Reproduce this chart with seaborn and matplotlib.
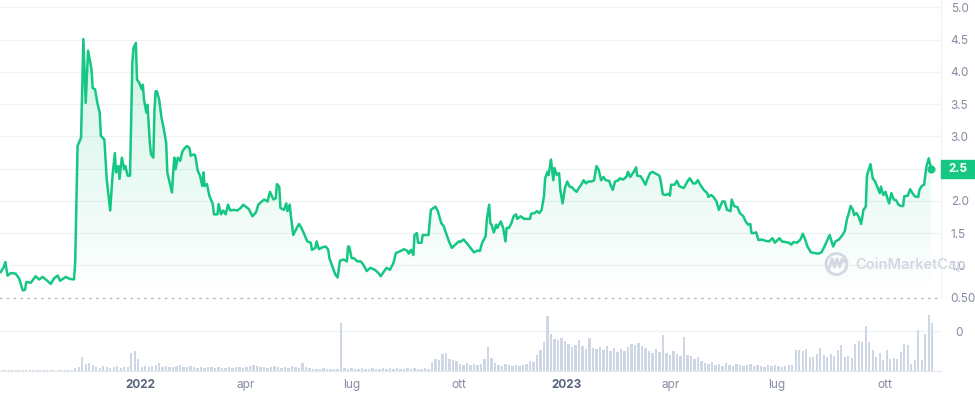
import numpy as np
import pandas as pd
import matplotlib
matplotlib.use("Agg")
import matplotlib.pyplot as plt
import matplotlib.colors as mcolors
import matplotlib.transforms as mtransforms
from matplotlib.patches import Polygon, Rectangle, Circle
from matplotlib.lines import Line2D
import seaborn as sns

sns.set_theme(style="white")
plt.rcParams["font.family"] = ["Inter", "DejaVu Sans"]

GREEN = "#16c784"
GRID = "#eff2f5"
LABEL = "#858ca2"
YEAR = "#58667e"
BAR = "#cfd6e4"
MARK = "#d3d8e1"

# -------------------------
# Data
# -------------------------
start_date = "2021-09-03"

# price: day offset from start_date, value
day_a = [0, 3, 4, 6, 9, 13, 16, 19, 21, 22, 26, 30, 33, 36, 40, 43, 46, 49, 51, 56,
         59, 63, 64, 66, 69, 71, 73, 75, 78, 79, 81, 83, 85, 86, 89, 91, 94, 96, 98, 99,
         101, 102, 104, 106, 107, 109, 111, 113, 114, 116, 117, 119, 121, 122, 123, 125,
         126, 128, 129, 131, 132, 133, 134, 136, 138, 140, 142, 143, 146, 147, 148, 149,
         150, 152, 154, 156, 158, 160, 162, 163, 166, 167, 169, 171, 173, 174, 175, 177,
         179, 182, 183, 186, 187, 189, 191, 193, 195, 197, 200, 203]
price_a = [0.89, 0.98, 1.05, 0.84, 0.88, 0.87, 0.79, 0.61, 0.62, 0.74, 0.73, 0.83, 0.78,
           0.82, 0.76, 0.71, 0.80, 0.84, 0.76, 0.82, 0.79, 0.78, 1.05, 2.85, 2.98, 4.51,
           3.52, 4.33, 4.04, 3.75, 3.73, 3.52, 3.37, 3.01, 2.95, 2.34, 1.85, 2.39, 2.74,
           2.44, 2.54, 2.34, 2.67, 2.49, 2.54, 2.39, 2.39, 4.14, 4.37, 4.45, 3.88, 3.83,
           3.73, 3.80, 3.57, 3.37, 3.49, 2.90, 2.72, 2.67, 3.42, 3.70, 3.70, 3.57, 3.29,
           3.11, 2.90, 2.44, 2.21, 2.13, 2.44, 2.67, 2.49, 2.67, 2.62, 2.77, 2.82, 2.85,
           2.82, 2.70, 2.72, 2.70, 2.47, 2.39, 2.23, 2.44, 2.23, 2.26, 2.08, 1.95, 1.79,
           1.79, 1.95, 1.79, 1.85, 1.79, 1.94, 1.85, 1.86, 1.85]

day_b = [206, 208, 211, 213, 216, 219, 221, 224, 226, 229, 231, 234, 236, 237, 239, 240,
         243, 245, 246, 248, 249, 251, 254, 256, 258, 260, 263, 266, 267, 270, 271, 273,
         276, 279, 281, 282, 285, 287, 289, 291, 294, 297, 298, 299, 301, 303, 306, 309,
         311, 314, 317, 321, 324, 326, 329, 331, 334, 337, 339, 343, 346, 349, 350, 352,
         354, 355, 357, 358, 361, 362, 366, 367, 369, 373, 375, 378, 380, 382, 385, 387,
         390, 393]
price_b = [1.89, 1.94, 1.90, 1.87, 1.76, 1.82, 1.94, 1.99, 2.02, 1.99, 2.14, 2.02, 2.04,
           2.26, 2.22, 1.89, 1.86, 1.96, 1.84, 1.94, 1.76, 1.47, 1.58, 1.64, 1.58, 1.50,
           1.37, 1.35, 1.24, 1.27, 1.37, 1.25, 1.28, 1.29, 1.24, 1.11, 0.96, 0.86, 0.81,
           1.07, 1.09, 1.06, 1.29, 1.29, 1.11, 1.11, 1.06, 1.06, 1.01, 0.91, 0.96, 0.93,
           0.88, 0.83, 0.91, 0.96, 0.93, 1.04, 1.19, 1.22, 1.25, 1.22, 1.18, 1.24, 1.16,
           1.47, 1.50, 1.35, 1.35, 1.47, 1.47, 1.47, 1.86, 1.91, 1.84, 1.65, 1.61, 1.50,
           1.35, 1.27, 1.32, 1.37]

day_c = [394, 397, 400, 403, 406, 409, 411, 413, 416, 417, 419, 420, 421, 423, 425, 426,
         429, 431, 433, 434, 436, 438, 440, 442, 443, 446, 449, 451, 454, 455, 458, 460,
         462, 464, 466, 467, 469, 470, 472, 474, 475, 477, 479, 480, 482, 484, 486, 488,
         490, 492, 494, 496, 498, 500, 502, 504, 507, 509, 511, 513, 515, 517, 519, 522,
         523, 525, 527, 530, 531, 534, 537, 538, 540, 543, 545, 546, 549, 551, 553, 555,
         557, 559, 562, 565, 566, 568, 570, 573, 574, 575, 578, 580, 582, 584, 586, 589]
price_c = [1.36, 1.40, 1.34, 1.27, 1.20, 1.23, 1.22, 1.35, 1.45, 1.71, 1.94, 1.65, 1.63,
           1.51, 1.63, 1.58, 1.68, 1.58, 1.37, 1.58, 1.58, 1.65, 1.76, 1.79, 1.72, 1.76,
           1.72, 1.72, 1.72, 1.80, 1.81, 1.84, 1.81, 1.86, 2.07, 2.35, 2.45, 2.40, 2.64,
           2.32, 2.51, 2.40, 2.43, 2.17, 1.96, 2.20, 2.30, 2.22, 2.21, 2.17, 2.14, 2.20,
           2.25, 2.32, 2.27, 2.30, 2.30, 2.32, 2.54, 2.48, 2.32, 2.37, 2.32, 2.31, 2.25,
           2.17, 2.30, 2.32, 2.35, 2.33, 2.38, 2.45, 2.37, 2.45, 2.52, 2.39, 2.38, 2.32,
           2.25, 2.35, 2.43, 2.45, 2.42, 2.39, 2.32, 2.10, 2.09, 2.11, 2.08, 2.25, 2.25,
           2.31, 2.23, 2.21, 2.20, 2.30]

day_d = [591, 594, 596, 598, 600, 603, 606, 607, 609, 611, 614, 616, 619, 621, 623, 626,
         627, 629, 632, 634, 637, 639, 641, 643, 644, 646, 648, 650, 653, 656, 659, 662,
         664, 668, 670, 673, 676, 678, 680, 683, 686, 688, 690, 692, 695, 698, 701, 704,
         706, 708, 711, 713, 714, 716, 719, 722, 724, 726, 727, 729, 731, 732, 734, 736,
         738, 740, 742, 743, 744, 746, 748, 750, 752, 754, 755, 757, 759, 760, 762, 764,
         766, 768, 770, 772, 774, 775, 778, 780, 782, 784, 787, 788, 790, 792, 794, 796,
         798]
price_d = [2.35, 2.27, 2.27, 2.32, 2.25, 2.17, 2.12, 2.06, 2.09, 2.07, 1.99, 1.86, 1.99,
           1.99, 1.86, 1.84, 2.02, 1.92, 1.90, 1.81, 1.76, 1.68, 1.63, 1.64, 1.50, 1.50,
           1.51, 1.39, 1.40, 1.38, 1.37, 1.42, 1.35, 1.42, 1.37, 1.36, 1.35, 1.32, 1.36,
           1.35, 1.40, 1.49, 1.40, 1.29, 1.20, 1.19, 1.18, 1.20, 1.27, 1.35, 1.47, 1.35,
           1.29, 1.37, 1.40, 1.47, 1.53, 1.73, 1.78, 1.92, 1.86, 1.78, 1.81, 1.75, 1.64,
           1.86, 1.91, 2.39, 2.45, 2.57, 2.35, 2.30, 2.21, 2.12, 2.22, 2.09, 2.14, 2.07,
           1.96, 2.12, 2.02, 2.01, 1.94, 1.92, 1.92, 2.07, 2.08, 2.18, 2.12, 2.07, 2.06,
           2.17, 2.23, 2.25, 2.53, 2.66, 2.50]

# volume, one bar every 3 days from start_date (scaled units)
volume_step = 3
volume = [1, 1, 1, 1, 1, 1, 1, 1, 1, 1, 1, 1, 1, 1, 1, 1, 1, 1, 1, 1, 1,
          3, 4, 14, 7, 8, 6,
          4, 3, 5, 4, 3, 4, 5, 3, 4, 4,
          18, 20, 12,
          4, 5, 4, 5, 6, 8, 4, 5, 4, 4, 5, 6, 4, 4, 5, 4,
          3, 4, 3, 4, 4, 3, 4, 3, 3, 4, 3, 4, 4, 3, 4,
          5, 6, 5, 4,
          4, 3, 4, 5, 4, 3, 4, 3, 5, 4, 3, 8, 4, 3,
          2, 2, 2, 3, 2, 2, 2, 2,
          48,
          3, 2, 3, 2, 2, 3, 2, 2, 3, 2, 2, 3, 2, 3, 2, 3, 2, 2, 3, 2, 3, 2, 2, 3, 2,
          9, 12, 11, 17, 18, 12, 11, 10,
          7, 6, 8, 6, 7, 6, 7, 12,
          24, 13, 8,
          6, 5, 7, 6, 5, 6, 5, 6, 7, 10,
          9, 16, 21, 29, 55, 37, 32, 31, 33, 30, 27, 24, 26, 31, 25, 22, 33, 23, 22, 24,
          21, 25, 20, 23, 19, 22, 20, 24, 27, 26, 28, 25, 23, 20, 18, 22, 19, 36, 18, 16,
          20, 17, 15, 34, 16, 15, 12, 14, 10, 8, 7, 9, 6,
          7, 5, 8, 6, 5, 7, 6, 5, 6, 7, 5, 6, 5, 4, 6, 5, 6, 5, 4, 5, 6,
          6, 21, 21, 20, 22, 14, 14, 17, 23, 16, 14, 17, 15, 21, 26, 14, 15, 13, 27, 30,
          29, 45, 29, 21, 14, 18, 11, 21, 12, 13, 12, 19, 27, 26, 7, 11, 41, 11, 37, 56,
          48]

tick_dates = ["2022-01-01", "2022-04-01", "2022-07-01", "2022-10-01",
              "2023-01-01", "2023-04-01", "2023-07-01", "2023-10-01"]
tick_labels = ["2022", "apr", "lug", "ott", "2023", "apr", "lug", "ott"]
price_ticks = [0.5, 1.0, 1.5, 2.0, 2.5, 3.0, 3.5, 4.0, 4.5, 5.0]
price_tick_labels = ["0.50", "1.0", "1.5", "2.0", "", "3.0", "3.5", "4.0", "4.5", "5.0"]
volume_ticks = [40]
volume_tick_labels = ["0"]
current_price = 2.5
current_label = "2.5"

price_day = day_a + day_b + day_c + day_d
price = price_a + price_b + price_c + price_d
df = pd.DataFrame({"day": price_day, "price": price})

start = pd.Timestamp(start_date)
tick_pos = [(pd.Timestamp(d) - start).days for d in tick_dates]
vol_day = np.arange(len(volume)) * volume_step + 1

# -------------------------
# Layout (pixel based)
# -------------------------
W, H = 975, 396
plot_right = 941
fig = plt.figure(figsize=(W / 100, H / 100), dpi=100)
ax = fig.add_axes([0, 1 - 297.5 / H, plot_right / W, 297.5 / H])
axv = fig.add_axes([0, 1 - 371 / H, plot_right / W, 71 / H])

x_lim = (-0.5, 806.5)
y_lim = (0.5, 5.116)

# price line
sns.lineplot(data=df, x="day", y="price", ax=ax, color=GREEN, lw=1.8, zorder=4)

# gradient fill under the line
verts = [(price_day[0], y_lim[0])] + list(zip(price_day, price)) + [(price_day[-1], y_lim[0])]
poly = Polygon(verts, closed=True, fc="none", ec="none")
ax.add_patch(poly)
grad = np.zeros((256, 1, 4))
grad[..., :3] = mcolors.to_rgb(GREEN)
grad[:, 0, 3] = np.linspace(0.20, 0.0, 256)
im = ax.imshow(grad, aspect="auto", origin="upper",
               extent=[price_day[0], price_day[-1], y_lim[0], max(price)], zorder=2)
im.set_clip_path(poly)

# horizontal gridlines
for t in price_ticks[1:]:
    ax.axhline(t, color=GRID, lw=0.9, zorder=1)

# end dot
ax.scatter([price_day[-1]], [price[-1]], s=34, color=GREEN, zorder=6, clip_on=False,
           linewidths=0)

ax.set_xlim(*x_lim)
ax.set_ylim(*y_lim)
ax.set_xlabel("")
ax.set_ylabel("")
ax.yaxis.tick_right()
ax.set_yticks(price_ticks, price_tick_labels)
ax.tick_params(axis="y", length=0, pad=7, labelsize=8.5, labelcolor=LABEL)
ax.tick_params(axis="x", length=0, labelbottom=False)
ax.set_xticks([])
for s in ["left", "top"]:
    ax.spines[s].set_visible(False)
ax.spines["right"].set_color(GRID)
ax.spines["right"].set_linewidth(0.9)
ax.spines["bottom"].set_color("#aab1bf")
ax.spines["bottom"].set_linewidth(0.9)
ax.spines["bottom"].set_linestyle((0, (1, 4.5)))

# current price tag
blend = mtransforms.blended_transform_factory(ax.transAxes, ax.transData)
box_w = 34 / plot_right
box_h = 18 / 64.4
ax.add_patch(Rectangle((1.0, current_price - box_h / 2), box_w, box_h, transform=blend,
                       color=GREEN, clip_on=False, zorder=7))
ax.text(1.0 + box_w / 2, current_price, current_label, transform=blend, ha="center",
        va="center", color="white", fontsize=8.5, fontweight="bold", zorder=8)

# -------------------------
# Volume
# -------------------------
axv.bar(vol_day, volume, width=2.0, color=BAR, linewidth=0, zorder=3)
for t in volume_ticks:
    axv.axhline(t, color=GRID, lw=0.9, zorder=1)
axv.set_xlim(*x_lim)
axv.set_ylim(0, 71)
axv.yaxis.tick_right()
axv.set_yticks(volume_ticks, volume_tick_labels)
axv.tick_params(axis="y", length=0, pad=10, labelsize=8.5, labelcolor=LABEL)
axv.set_xticks(tick_pos, tick_labels)
axv.tick_params(axis="x", length=0, pad=6, labelsize=8.5, labelcolor=LABEL)
for lbl in axv.get_xticklabels():
    if lbl.get_text().isdigit():
        lbl.set_fontweight("bold")
        lbl.set_color(YEAR)
for s in ["left", "top", "right"]:
    axv.spines[s].set_visible(False)
axv.spines["bottom"].set_color("#e6e9ee")
axv.spines["bottom"].set_linewidth(0.9)

# -------------------------
# Watermark
# -------------------------
fig.add_artist(Circle((836.5, H - 264), 10.5, transform=None, fill=False,
                      ec=MARK, lw=2.0, zorder=10))
wx = np.array([829, 832, 834.5, 837, 839.5, 842, 844.5])
wy = np.array([269, 259, 267, 259, 267, 259, 262])
fig.add_artist(Line2D(wx / W, 1 - wy / H, transform=fig.transFigure, color=MARK,
                      lw=2.0, solid_capstyle="round", solid_joinstyle="round", zorder=10))
fig.text(855 / W, 1 - 265 / H, "CoinMarketCap", ha="left", va="center", fontsize=10.5,
         fontweight="semibold", color=MARK, zorder=10)

fig.savefig("out.png", dpi=100, facecolor="white")
